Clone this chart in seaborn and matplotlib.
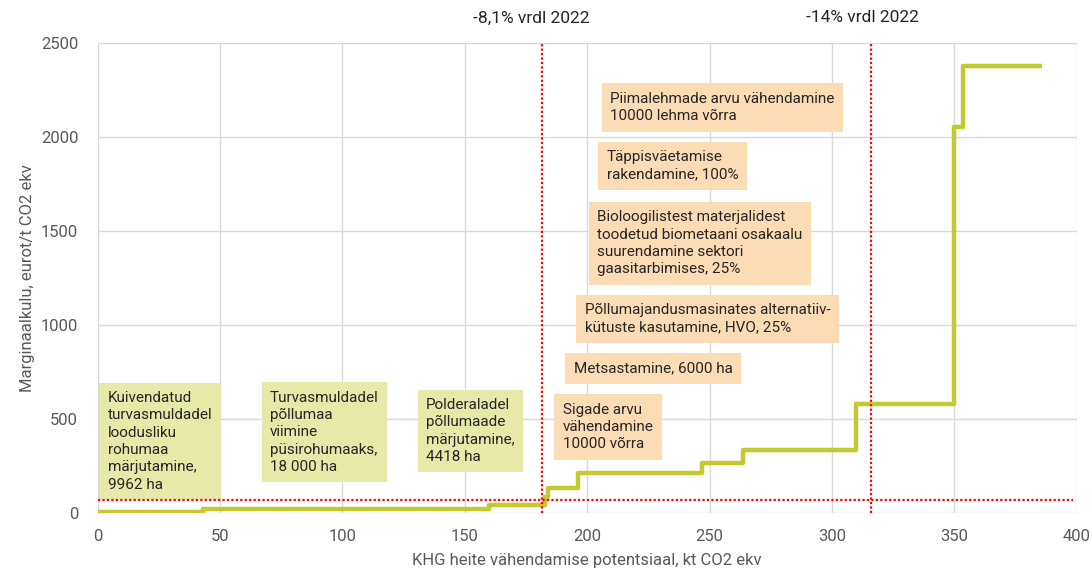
import matplotlib
matplotlib.use("Agg")
import matplotlib.pyplot as plt
import seaborn as sns
import pandas as pd

# Step edges (kt CO2 ekv) and marginal cost levels (eurot/t CO2 ekv)
step_edges = [0, 43, 160, 182.8, 184, 196.3, 246.8, 263.8, 310, 349.7, 353.7, 386]
step_costs = [9, 22, 43, 87, 133, 216, 266, 337, 581, 2055, 2377]

ref_lines_x = [181.5, 316]
ref_line_y = 71
ref_labels = ["-8,1% vrdl 2022", "-14% vrdl 2022"]
ref_label_x = [177, 312.4]

green_texts = [
    "Kuivendatud\nturvasmuldadel\nloodusliku\nrohumaa\nmärjutamine,\n9962 ha",
    "Turvasmuldadel\npõllumaa\nviimine\npüsirohumaaks,\n18 000 ha",
    "Polderaladel\npõllumaade\nmärjutamine,\n4418 ha",
]
green_x = [4.1, 70.4, 134.1]
green_y = [383, 431, 438]

orange_texts = [
    "Sigade arvu\nvähendamine\n10000 võrra",
    "Metsastamine, 6000 ha",
    "Põllumajandusmasinates alternatiiv-\nkütuste kasutamine, HVO, 25%",
    "Bioloogilistest materjalidest\ntoodetud biometaani osakaalu\nsuurendamine sektori\ngaasitarbimises, 25%",
    "Täppisväetamise\nrakendamine, 100%",
    "Piimalehmade arvu vähendamine\n10000 lehma võrra",
]
orange_x = [190.0, 194.5, 198.9, 204.1, 208.0, 209.5]
orange_y = [459, 771, 1033, 1435, 1846, 2157]

x_ticks = [0, 50, 100, 150, 200, 250, 300, 350, 400]
y_ticks = [0, 500, 1000, 1500, 2000, 2500]

sns.set_style("whitegrid")
plt.rcParams["font.family"] = ["Roboto", "DejaVu Sans"]

fig = plt.figure(figsize=(10.92, 5.69), dpi=100)
ax = fig.add_axes([0.0895, 0.0977, 0.8965, 0.8269])

df = pd.DataFrame({"x": step_edges, "y": step_costs + [step_costs[-1]]})
sns.lineplot(data=df, x="x", y="y", drawstyle="steps-post", estimator=None,
             sort=False, color="#c4c930", linewidth=3.2, ax=ax,
             solid_capstyle="butt", zorder=4)

for xv in ref_lines_x:
    ax.axvline(xv, color="#ff0000", linestyle=(0, (1, 1)), linewidth=1.6, zorder=5)
ax.plot([0, 398.5], [ref_line_y, ref_line_y], color="#ff0000",
        linestyle=(0, (1, 1)), linewidth=1.6, zorder=5)

for t, xv in zip(ref_labels, ref_label_x):
    ax.text(xv, 1.0 + 0.053, t, transform=ax.get_xaxis_transform(), ha="center",
            va="center", fontsize=12.5, color="#262626")

box_kw = dict(ha="left", va="center", fontsize=11, color="#262626",
              linespacing=1.3, zorder=3)
for t, xv, yv in zip(green_texts, green_x, green_y):
    ax.text(xv, yv, t, bbox=dict(boxstyle="square,pad=0.55", fc="#e6e9a8", ec="none"),
            **box_kw)
for t, xv, yv in zip(orange_texts, orange_x, orange_y):
    ax.text(xv, yv, t, bbox=dict(boxstyle="square,pad=0.55", fc="#fcdcb4", ec="none"),
            **box_kw)

ax.set_xlim(0, 400)
ax.set_ylim(0, 2500)
ax.set_xticks(x_ticks)
ax.set_yticks(y_ticks)
ax.grid(True, color="#d9d9d9", linewidth=1)
for s in ax.spines.values():
    s.set_visible(False)
ax.tick_params(axis="both", colors="#595959", labelsize=12, length=0)
ax.tick_params(axis="y", pad=14)
ax.tick_params(axis="x", pad=11)
ax.set_xlabel("KHG heite vähendamise potentsiaal, kt CO2 ekv", fontsize=12,
              color="#595959", labelpad=7)
ax.set_ylabel("Marginaalkulu, eurot/t CO2 ekv", fontsize=12, color="#595959",
              labelpad=4)

fig.savefig("out.png", dpi=100)
